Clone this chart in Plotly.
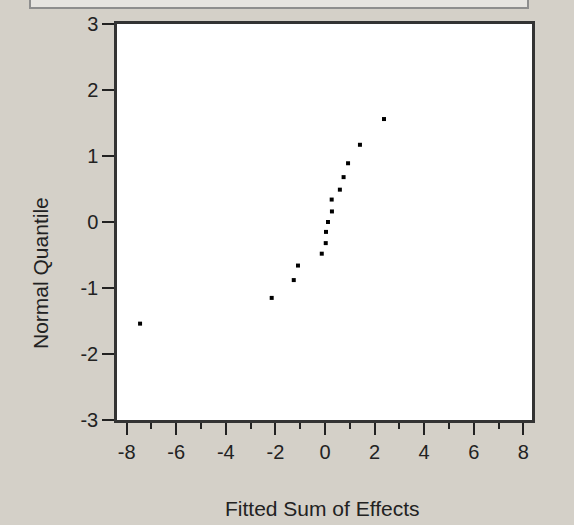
import plotly.graph_objects as go

# Data
fitted_sum = [-7.46, -2.15, -1.26, -1.09, -0.13, 0.03, 0.04, 0.12, 0.28, 0.27, 0.60, 0.75, 0.93, 1.41, 2.38]
normal_quantile = [-1.54, -1.15, -0.88, -0.66, -0.48, -0.32, -0.15, 0.0, 0.16, 0.34, 0.49, 0.68, 0.89, 1.17, 1.56]
x_ticks = [-8, -6, -4, -2, 0, 2, 4, 6, 8]
y_ticks = [-3, -2, -1, 0, 1, 2, 3]
x_title = "Fitted Sum of Effects"
y_title = "Normal Quantile"

W, H = 574, 525
L, R, T, B = 117, 42, 24, 105
PW, PH = W - L - R, H - T - B
BG = "#D4D0C8"
FONT = "Liberation Sans, Arial, sans-serif"
INK = "#222222"

fig = go.Figure()
fig.add_trace(go.Scatter(
    x=fitted_sum, y=normal_quantile, mode="markers",
    marker=dict(symbol="square", size=4, color="black", line=dict(width=0)),
    hoverinfo="x+y", showlegend=False,
))

axis_common = dict(
    showgrid=False, zeroline=False, showline=True, linecolor="#333333", linewidth=2.5,
    mirror=True, ticks="outside", ticklen=12, tickcolor=INK,
    tickfont=dict(family=FONT, size=20, color=INK),
)

fig.update_xaxes(
    range=[-8.39, 8.35], tickmode="array", tickvals=x_ticks,
    ticktext=[str(v) for v in x_ticks], tickwidth=2,
    minor=dict(dtick=1, ticks="outside", ticklen=6, tickwidth=2, tickcolor=INK, showgrid=False),
    **axis_common,
)
fig.update_yaxes(
    range=[-3, 3], tickmode="array", tickvals=y_ticks,
    ticktext=[str(v) for v in y_ticks], tickwidth=1.5,
    **axis_common,
)

# decorative panel bar at the top (pixel positions converted to paper coords)
bx0, bx1, by0 = 30, 528, 8
fig.add_shape(
    type="rect", xref="paper", yref="paper",
    x0=(bx0 - L) / PW, x1=(bx1 - L) / PW,
    y0=1 + (T - by0) / PH, y1=1 + (T + 10) / PH,
    line=dict(color="#8E8E8E", width=2), fillcolor="#E6E4E0", layer="above",
)

fig.update_layout(
    width=W, height=H,
    margin=dict(l=L, r=R, t=T, b=B),
    paper_bgcolor=BG, plot_bgcolor="white",
    font=dict(family=FONT, size=20, color=INK),
    annotations=[
        dict(text=x_title, xref="paper", yref="paper",
             x=(322 - L) / PW, y=-(508 - (H - B)) / PH,
             showarrow=False, xanchor="center", yanchor="middle",
             font=dict(family=FONT, size=21, color=INK)),
        dict(text=y_title, xref="paper", yref="paper", textangle=-90,
             x=-(L - 40) / PW, y=1 - (273 - T) / PH,
             showarrow=False, xanchor="center", yanchor="middle",
             font=dict(family=FONT, size=21, color=INK)),
    ],
)

fig.write_html("out.html", config={"displayModeBar": False},
               post_script="document.body.style.margin='0';")
